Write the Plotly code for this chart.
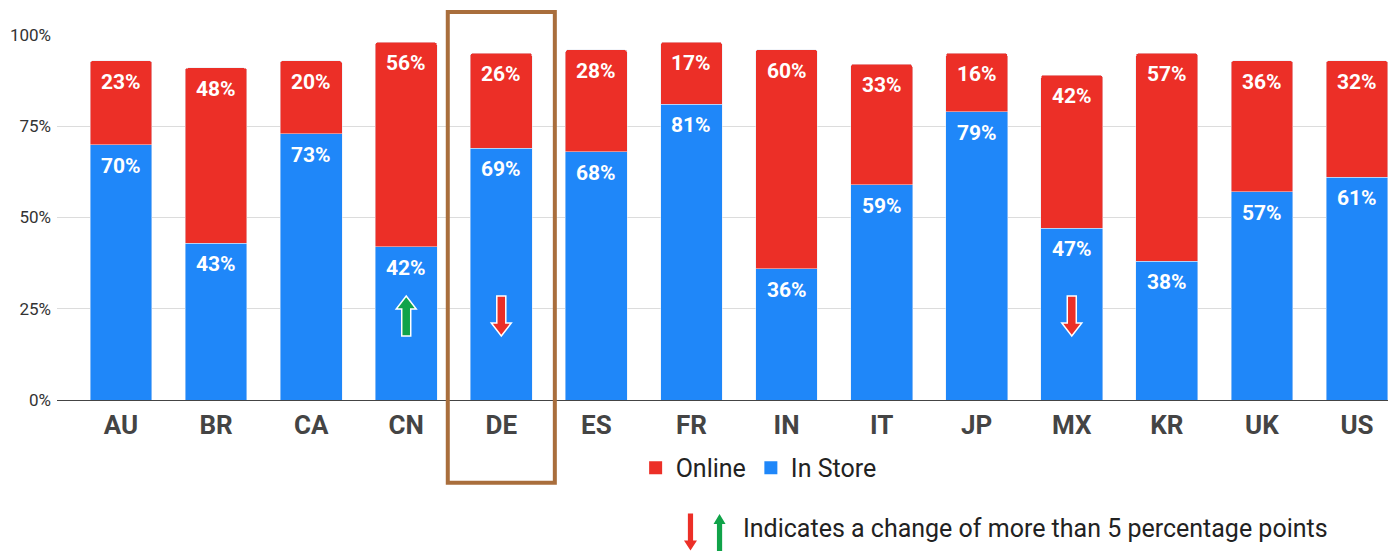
import plotly.graph_objects as go

# chart data
countries = ['AU', 'BR', 'CA', 'CN', 'DE', 'ES', 'FR', 'IN', 'IT', 'JP', 'MX', 'KR', 'UK', 'US']
in_store = [70, 43, 73, 42, 69, 68, 81, 36, 59, 79, 47, 38, 57, 61]
online = [23, 48, 20, 56, 26, 28, 17, 60, 33, 16, 42, 57, 36, 32]
# change arrows (country -> direction)
changes = {'CN': 'up', 'DE': 'down', 'MX': 'down'}
highlight = 'DE'

RED = '#ec2f27'
BLUE = '#1f87f9'
GREEN = '#10a349'
BROWN = '#a96e3c'
FONT = 'Roboto'


def arrow_path(direction, length, bw, hw, hl):
    # arrow drawn in pixel offsets around an anchor point (y up)
    s = 1 if direction == 'up' else -1
    top = s * length / 2
    bot = -s * length / 2
    neck = top - s * hl
    pts = [(-bw, bot), (-bw, neck), (-hw, neck), (0, top), (hw, neck), (bw, neck), (bw, bot)]
    return 'M ' + ' L '.join('%g,%g' % p for p in pts) + ' Z'


fig = go.Figure()
fig.add_trace(go.Bar(x=countries, y=in_store, name='In Store', marker_color=BLUE, showlegend=False))
fig.add_trace(go.Bar(x=countries, y=online, name='Online', marker_color=RED, showlegend=False))
# legend entries as square markers
fig.add_trace(go.Scatter(x=[None], y=[None], mode='markers', name='In Store',
                         marker=dict(symbol='square', size=13, color=BLUE)))
fig.add_trace(go.Scatter(x=[None], y=[None], mode='markers', name='Online',
                         marker=dict(symbol='square', size=13, color=RED)))

# value labels near the top of each segment
for c, s, o in zip(countries, in_store, online):
    for val, top in ((s, s), (o, s + o)):
        fig.add_annotation(x=c, y=top, text='<b>%d%%</b>' % val, showarrow=False,
                           yshift=-21, font=dict(family=FONT, size=21, color='white'))

# arrows inside bars
for c, d in changes.items():
    fig.add_shape(type='path', xref='x', yref='y', xsizemode='pixel', ysizemode='pixel',
                  xanchor=c, yanchor=23, path=arrow_path(d, 40, 4.5, 10, 13),
                  fillcolor=GREEN if d == 'up' else RED, line=dict(color='white', width=1.5))

# highlight box around DE
i = countries.index(highlight)
fig.add_shape(type='rect', xref='x', yref='paper', x0=i - 0.563, x1=i + 0.563, y0=-0.227, y1=1.063,
              line=dict(color=BROWN, width=4), fillcolor='rgba(0,0,0,0)', layer='above')

# footnote arrows + text
fig.add_shape(type='path', xref='paper', yref='paper', xsizemode='pixel', ysizemode='pixel',
              xanchor=0.4731, yanchor=-0.3616, path=arrow_path('down', 37, 2.6, 6.5, 10),
              fillcolor=RED, line=dict(width=0))
fig.add_shape(type='path', xref='paper', yref='paper', xsizemode='pixel', ysizemode='pixel',
              xanchor=0.4948, yanchor=-0.3753, path=arrow_path('up', 46, 2.6, 6, 10),
              fillcolor=GREEN, line=dict(width=0))
fig.add_annotation(xref='paper', yref='paper', x=0.5108, y=-0.351, xanchor='left', yanchor='middle',
                   text='Indicates a change of more than 5 percentage points', showarrow=False,
                   font=dict(family=FONT, size=25, color='#222'))

fig.update_layout(
    width=1388, height=543,
    margin=dict(l=49, r=0, t=27, b=151),
    barmode='stack', bargap=0.35, barcornerradius=3,
    paper_bgcolor='white', plot_bgcolor='white',
    font=dict(family=FONT, color='#333'),
    showlegend=True,
    legend=dict(orientation='h', x=0.524, xanchor='center', y=-0.186, yanchor='middle',
                traceorder='reversed', font=dict(family=FONT, size=25, color='#222'),
                itemwidth=30),
    xaxis=dict(range=[-0.673, 13.41], showgrid=False, ticklabelstandoff=2,
               tickfont=dict(family=FONT, size=26, color='#444', weight='bold'),
               showline=True, linecolor='#444', linewidth=1),
    yaxis=dict(range=[0, 100], tickvals=[0, 25, 50, 75, 100],
               ticktext=['0%', '25%', '50%', '75%', '100%'],
               gridcolor='#dcdcdc', zeroline=False, ticklabelstandoff=5,
               tickfont=dict(family=FONT, size=17, color='#333')),
)

fig.write_html('out.html')
